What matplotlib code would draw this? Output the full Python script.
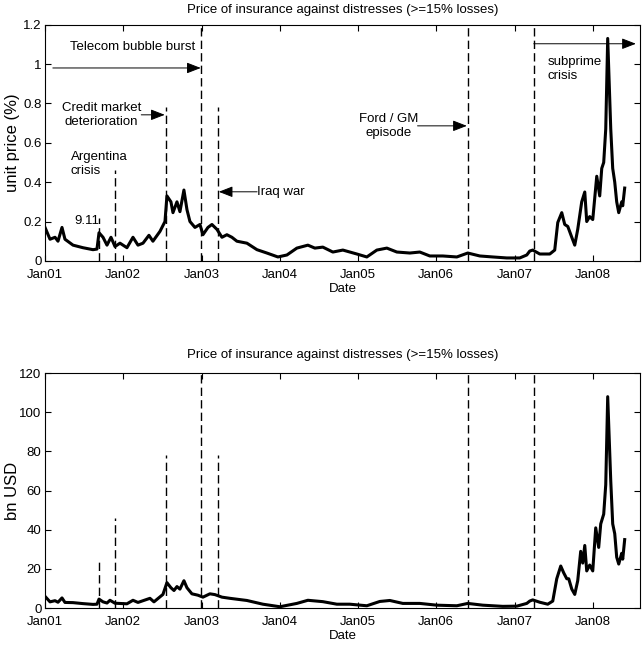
import matplotlib
matplotlib.use("Agg")
import matplotlib.pyplot as plt
from matplotlib.ticker import FormatStrFormatter

plt.rcParams['font.family'] = ['Liberation Sans', 'DejaVu Sans']
plt.rcParams['font.size'] = 9.5

# dates as decimal years
t_price = [2001.000, 2001.064, 2001.128, 2001.166, 2001.217, 2001.255, 2001.358, 2001.485,
           2001.613, 2001.664, 2001.690, 2001.741, 2001.792, 2001.843, 2001.894, 2001.958,
           2002.047, 2002.124, 2002.188, 2002.252, 2002.328, 2002.379, 2002.469, 2002.533,
           2002.558, 2002.609, 2002.635, 2002.686, 2002.724, 2002.775, 2002.814, 2002.852,
           2002.916, 2002.980, 2003.018, 2003.082, 2003.133, 2003.197, 2003.261, 2003.324,
           2003.388, 2003.452, 2003.580, 2003.708, 2003.835, 2003.976, 2004.091, 2004.218,
           2004.359, 2004.448, 2004.550, 2004.678, 2004.806, 2004.985, 2005.112, 2005.240,
           2005.368, 2005.496, 2005.662, 2005.789, 2005.917, 2006.083, 2006.262, 2006.402,
           2006.556, 2006.722, 2006.900, 2007.066, 2007.156, 2007.194, 2007.232, 2007.322,
           2007.450, 2007.513, 2007.552, 2007.603, 2007.641, 2007.680, 2007.731, 2007.769,
           2007.807, 2007.858, 2007.897, 2007.922, 2007.960, 2007.999, 2008.050, 2008.088,
           2008.114, 2008.139, 2008.165, 2008.190, 2008.229, 2008.254, 2008.280, 2008.305,
           2008.331, 2008.369, 2008.382, 2008.407]
unit_price = [0.17, 0.11, 0.12, 0.10, 0.17, 0.11, 0.08, 0.067,
              0.057, 0.06, 0.143, 0.12, 0.08, 0.12, 0.073, 0.09,
              0.067, 0.12, 0.08, 0.09, 0.13, 0.10, 0.15, 0.20,
              0.33, 0.30, 0.245, 0.30, 0.25, 0.36, 0.26, 0.20,
              0.17, 0.185, 0.133, 0.17, 0.185, 0.16, 0.12, 0.133,
              0.12, 0.10, 0.09, 0.057, 0.04, 0.02, 0.03, 0.065,
              0.08, 0.065, 0.07, 0.045, 0.055, 0.035, 0.02, 0.055,
              0.065, 0.045, 0.04, 0.045, 0.025, 0.025, 0.02, 0.04,
              0.025, 0.02, 0.015, 0.015, 0.03, 0.05, 0.055, 0.035,
              0.035, 0.055, 0.195, 0.245, 0.185, 0.175, 0.12, 0.08,
              0.16, 0.30, 0.35, 0.20, 0.225, 0.21, 0.43, 0.33,
              0.47, 0.50, 0.67, 1.13, 0.67, 0.47, 0.40, 0.30,
              0.245, 0.30, 0.28, 0.37]

t_usd = [2001.000, 2001.064, 2001.128, 2001.166, 2001.217, 2001.255, 2001.358, 2001.485,
         2001.613, 2001.664, 2001.690, 2001.741, 2001.792, 2001.830, 2001.894, 2002.047,
         2002.124, 2002.188, 2002.341, 2002.392, 2002.507, 2002.558, 2002.609, 2002.648,
         2002.686, 2002.724, 2002.775, 2002.814, 2002.877, 2002.954, 2003.018, 2003.107,
         2003.171, 2003.261, 2003.363, 2003.580, 2003.784, 2004.001, 2004.218, 2004.359,
         2004.550, 2004.729, 2004.895, 2005.112, 2005.278, 2005.406, 2005.572, 2005.789,
         2006.006, 2006.262, 2006.402, 2006.594, 2006.849, 2007.028, 2007.156, 2007.194,
         2007.232, 2007.322, 2007.424, 2007.488, 2007.539, 2007.590, 2007.628, 2007.667,
         2007.692, 2007.731, 2007.769, 2007.807, 2007.845, 2007.871, 2007.897, 2007.922,
         2007.960, 2007.999, 2008.037, 2008.075, 2008.101, 2008.139, 2008.165, 2008.190,
         2008.229, 2008.254, 2008.280, 2008.305, 2008.331, 2008.369, 2008.382, 2008.407]
bn_usd = [6.0, 3.2, 3.8, 3.0, 5.2, 2.9, 2.8, 2.3,
          1.9, 2.0, 4.6, 3.2, 2.6, 4.0, 2.5, 2.2,
          4.0, 2.9, 5.0, 3.2, 7.0, 13.0, 10.4, 9.0,
          11.0, 9.7, 14.0, 10.4, 7.3, 6.6, 5.6, 7.3,
          6.9, 5.6, 5.0, 3.9, 2.0, 0.7, 2.4, 4.0,
          3.3, 2.0, 2.0, 1.2, 3.4, 3.9, 2.4, 2.4,
          1.5, 1.2, 2.4, 1.5, 0.9, 1.0, 2.4, 3.6,
          4.2, 3.0, 2.0, 3.6, 15.0, 21.5, 18.0, 15.0,
          15.0, 9.7, 7.0, 14.0, 29.0, 23.0, 32.0, 19.0,
          22.0, 19.0, 41.0, 31.0, 43.0, 48.0, 63.0, 108.0,
          65.0, 43.0, 38.0, 26.0, 22.5, 28.0, 25.0, 35.0]

# event markers: 9.11, Argentina, credit market, telecom, Iraq, Ford/GM, subprime
event_t = [2001.69, 2001.90, 2002.55, 2002.99, 2003.21, 2006.40, 2007.25]
event_h_price = [0.22, 0.46, 0.78, 1.2, 0.78, 1.2, 1.2]
event_h_usd = [25, 46, 78, 120, 78, 120, 120]

year_ticks = [2001, 2002, 2003, 2004, 2005, 2006, 2007, 2008]
year_labels = ['Jan01', 'Jan02', 'Jan03', 'Jan04', 'Jan05', 'Jan06', 'Jan07', 'Jan08']

title = 'Price of insurance against distresses (>=15% losses)'

fig = plt.figure(figsize=(6.43, 6.49), dpi=100)
ax1 = fig.add_axes([0.070, 0.598, 0.925, 0.364])
ax2 = fig.add_axes([0.070, 0.063, 0.925, 0.362])

dash = (0, (6, 3))

for ax, t, v, heights, ymax, step in [(ax1, t_price, unit_price, event_h_price, 1.2, 0.2),
                                      (ax2, t_usd, bn_usd, event_h_usd, 120, 20)]:
    ax.plot(t, v, color='k', lw=2.2)
    ax.vlines(event_t, 0, heights, colors='k', linestyles=dash, lw=1)
    ax.set_xlim(2001.0, 2008.6)
    ax.set_ylim(0, ymax)
    ax.set_xticks(year_ticks)
    ax.set_xticklabels(year_labels)
    ax.set_yticks([step * i for i in range(7)])
    ax.yaxis.set_major_formatter(FormatStrFormatter('%g'))
    ax.tick_params(direction='in', top=True, right=True, length=4, width=0.8)
    ax.tick_params(axis='x', pad=5.5)
    ax.tick_params(axis='y', pad=2.5)
    ax.set_xlabel('Date', labelpad=1.5)
    for s in ax.spines.values():
        s.set_linewidth(0.8)

ax1.set_title(title, pad=8.6, fontsize=9.5)
ax2.set_title(title, pad=10.8, fontsize=9.5)
ax1.set_ylabel('unit price (%)', fontsize=12)
ax2.set_ylabel('bn USD', fontsize=12)
ax1.yaxis.set_label_coords(-0.042, 0.5)
ax2.yaxis.set_label_coords(-0.042, 0.5)

arrow = dict(arrowstyle='-|>,head_length=0.9,head_width=0.35', color='k', lw=0.7,
             shrinkA=0, shrinkB=0)

# annotations on the top panel
ax1.text(2002.12, 1.088, 'Telecom bubble burst', ha='center', va='center')
ax1.annotate('', xy=(2002.99, 0.98), xytext=(2001.10, 0.98), arrowprops=arrow)

ax1.text(2001.72, 0.742, 'Credit market\ndeterioration', ha='center', va='center')
ax1.annotate('', xy=(2002.53, 0.742), xytext=(2002.23, 0.742), arrowprops=arrow)

ax1.text(2001.33, 0.493, 'Argentina\ncrisis', ha='left', va='center')
ax1.text(2001.54, 0.203, '9.11', ha='center', va='center')

ax1.text(2003.71, 0.351, 'Iraq war', ha='left', va='center')
ax1.annotate('', xy=(2003.22, 0.351), xytext=(2003.71, 0.351), arrowprops=arrow)

ax1.text(2005.39, 0.686, 'Ford / GM\nepisode', ha='center', va='center')
ax1.annotate('', xy=(2006.39, 0.686), xytext=(2005.76, 0.686), arrowprops=arrow)

ax1.text(2007.42, 0.974, 'subprime\ncrisis', ha='left', va='center')
ax1.annotate('', xy=(2008.55, 1.103), xytext=(2007.245, 1.103), arrowprops=arrow)

fig.savefig('out.png', dpi=100)
